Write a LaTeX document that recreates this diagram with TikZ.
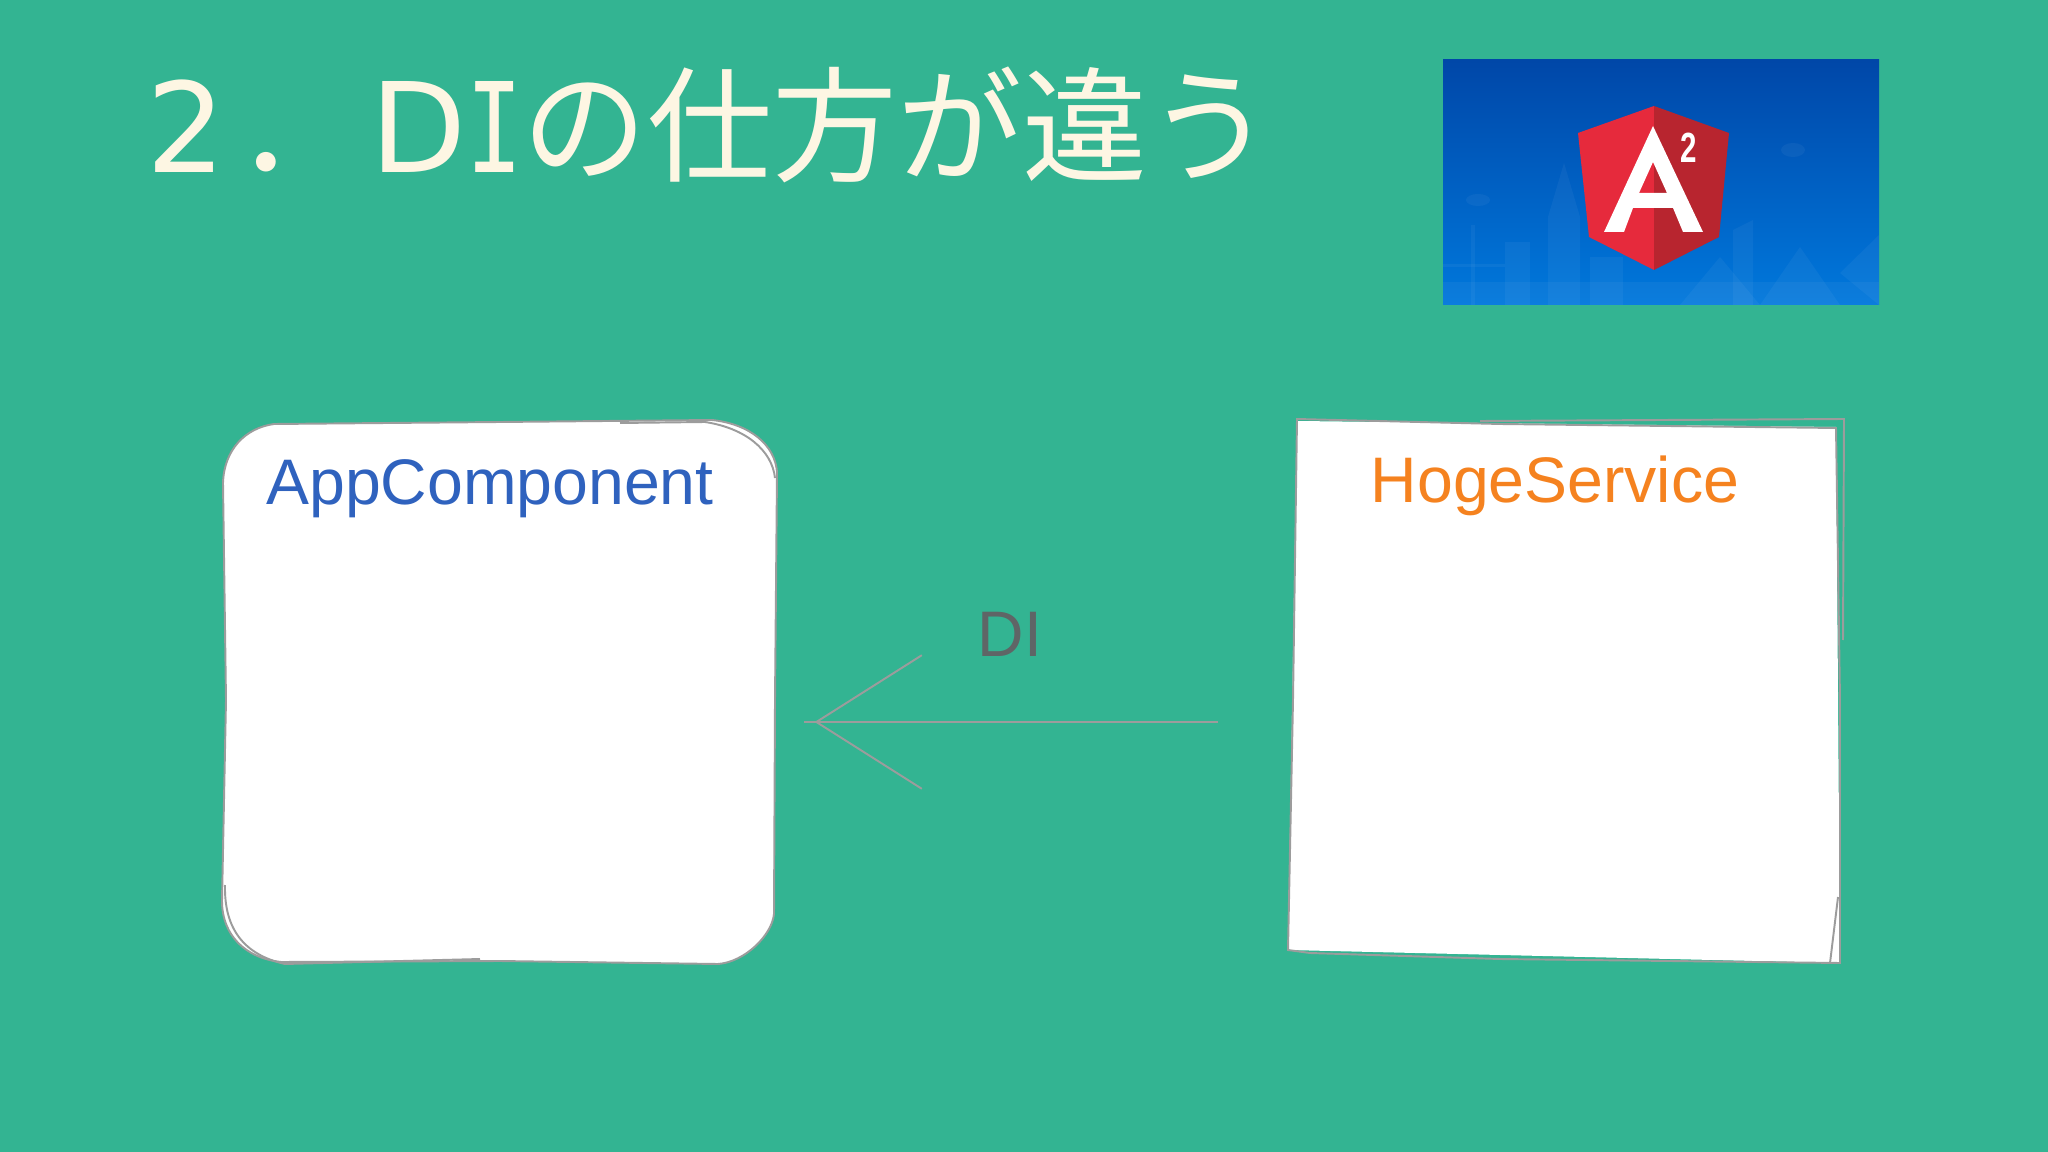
\documentclass[tikz,border=0pt]{standalone}
\usepackage{graphicx}
\usepackage{fontspec}
\setmainfont{Liberation Sans}
\newfontfamily\titlefont{DejaVu Sans}
\newfontfamily\titlemono{DejaVu Sans Mono}
\newfontfamily\cjkfont{Noto Sans CJK JP}
\usepackage{tikz}
\usetikzlibrary{arrows.meta}
\definecolor{slidegreen}{HTML}{33B492}
\definecolor{titlecream}{HTML}{FDF6E3}
\definecolor{sketchgray}{HTML}{9C9C9C}
\definecolor{appblue}{HTML}{2F62BE}
\definecolor{hogeorange}{HTML}{F5821F}
\definecolor{digray}{HTML}{5F6566}
\definecolor{shieldred}{HTML}{E62A3C}
\definecolor{shielddark}{HTML}{B8252F}
\definecolor{logotop}{HTML}{0047A8}
\definecolor{logobottom}{HTML}{0078DC}

\begin{document}
\begin{tikzpicture}[x=0.01cm, y=-0.01cm,
    boxnode/.style={minimum width=5.5cm, minimum height=5.45cm, inner sep=0pt},
    sketchline/.style={draw=sketchgray, line width=0.55pt},
    labelnode/.style={font=\fontsize{18.3}{20}\selectfont, inner sep=0pt},
    skyline/.style={fill=white, fill opacity=0.045, draw=none}]

    \useasboundingbox (0, 0) rectangle (2048, 1152);
    \fill[slidegreen] (0, 0) rectangle (2048, 1152);

    \node[anchor=base west, inner sep=0pt, text=titlecream, font=\fontsize{35.5}{40}\selectfont] (title) at (146, 173)
        {{\titlefont 2}\kern3pt{\cjkfont ．}\kern2.5pt{\titlefont D\scalebox{0.75}[1]{\titlemono I}}{\cjkfont の仕方が違う}};

    % logo
    \shade[top color=logotop, bottom color=logobottom] (1443, 60) rectangle (1879, 305);
    \fill[skyline] (1443, 282) rectangle (1879, 305);
    \fill[skyline] (1564, 163) -- (1580, 217) -- (1580, 305) -- (1548, 305) -- (1548, 217) -- cycle;
    \fill[skyline] (1505, 242) rectangle (1530, 305);
    \fill[skyline] (1590, 257) rectangle (1623, 305);
    \fill[skyline] (1733, 230) -- (1753, 220) -- (1753, 305) -- (1733, 305) -- cycle;
    \fill[skyline] (1760, 305) -- (1800, 247) -- (1840, 305) -- cycle;
    \fill[skyline] (1840, 273) -- (1879, 235) -- (1879, 305) -- cycle;
    \fill[skyline] (1680, 305) -- (1720, 257) -- (1760, 305) -- cycle;
    \fill[skyline] (1471, 225) rectangle (1475, 305);
    \fill[skyline] (1443, 264) rectangle (1505, 267);
    \fill[skyline] (1793, 150) ellipse (12 and 7);
    \fill[skyline] (1478, 200) ellipse (12 and 6);

    \fill[shieldred] (1654, 106) -- (1578, 133) -- (1589, 237) -- (1654, 270) -- cycle;
    \fill[shielddark] (1654, 106) -- (1729, 133) -- (1719, 237) -- (1654, 270) -- cycle;
    \fill[white, even odd rule] (1653, 126) -- (1703, 232) -- (1683, 232) -- (1673, 208) -- (1633, 208) -- (1624, 232) -- (1604, 232) -- cycle
        (1653, 162) -- (1667, 193) -- (1639, 193) -- cycle;
    \node[text=white, inner sep=0pt, font=\bfseries\fontsize{12}{12}\selectfont] (logotwo) at (1689, 148) {\scalebox{0.7}[1]{2}};

    % boxes
    \fill[white] (274, 424) -- (500, 422) -- (712, 420) .. controls (750, 424) and (775, 445) .. (777, 472)
        -- (775, 700) -- (774, 914) .. controls (772, 935) and (745, 962) .. (718, 964)
        -- (500, 961) -- (281, 962) .. controls (245, 958) and (222, 935) .. (222, 901)
        -- (226, 700) -- (223, 483) .. controls (224, 450) and (245, 428) .. (274, 424) -- cycle;
    \draw[sketchline] (274, 424) -- (500, 422) -- (712, 420) .. controls (750, 424) and (775, 445) .. (777, 472)
        -- (775, 700) -- (774, 914) .. controls (772, 935) and (745, 962) .. (718, 964)
        -- (500, 961) -- (281, 962) .. controls (245, 958) and (222, 935) .. (222, 901)
        -- (226, 700) -- (223, 483) .. controls (224, 450) and (245, 428) .. (274, 424) -- cycle;
    \draw[sketchline] (620, 423) -- (705, 422) .. controls (745, 428) and (772, 450) .. (775, 478);
    \draw[sketchline] (225, 885) .. controls (224, 930) and (245, 955) .. (285, 964) -- (480, 959);
    \node[boxnode] (app) at (500, 692) {};
    \node[labelnode, text=appblue] (applabel) at (490, 489) {AppComponent};

    \fill[white] (1297, 421) -- (1836, 427) -- (1840, 963) -- (1288, 950) -- cycle;
    \draw[sketchline] (1297, 419) -- (1500, 424) -- (1836, 428) -- (1840, 700) -- (1840, 963) -- (1500, 959) -- (1310, 953) -- (1288, 950) -- (1293, 700) -- cycle;
    \draw[sketchline] (1480, 421) -- (1844, 419) -- (1843, 640);
    \draw[sketchline] (1838, 897) -- (1830, 963);
    \node[boxnode] (hoge) at (1564, 692) {};
    \node[labelnode, text=hogeorange] (hogelabel) at (1555, 486) {HogeService};

    % arrow
    \coordinate (arrowlevel) at (1000, 722);
    \node[labelnode, text=digray] (dilabel) at (1010, 634) {DI};
    \draw[sketchline, -{Straight Barb[length=30pt, width=38pt]}, shorten >=11pt, shorten <=20pt]
        (hoge.west |- arrowlevel) -- (app.east |- arrowlevel);
    \draw[sketchline, shorten >=8pt, shorten <=20pt]
        (hoge.west |- arrowlevel) -- (app.east |- arrowlevel);
\end{tikzpicture}
\end{document}
